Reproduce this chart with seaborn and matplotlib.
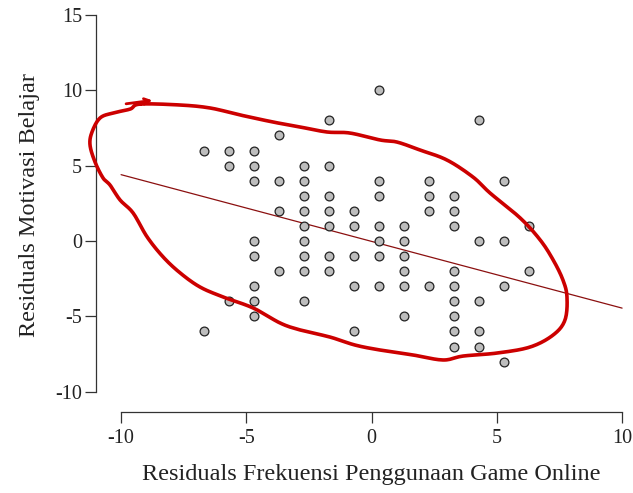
import numpy as np
import pandas as pd
import matplotlib
matplotlib.use("Agg")
import matplotlib.pyplot as plt
import seaborn as sns

# ---- data ----
x_game = [-6.7, -6.7,
          -5.7, -5.7, -5.7,
          -4.7, -4.7, -4.7, -4.7, -4.7, -4.7, -4.7, -4.7,
          -3.7, -3.7, -3.7, -3.7,
          -2.7, -2.7, -2.7, -2.7, -2.7, -2.7, -2.7, -2.7, -2.7,
          -1.7, -1.7, -1.7, -1.7, -1.7, -1.7, -1.7,
          -0.7, -0.7, -0.7, -0.7, -0.7,
          0.3, 0.3, 0.3, 0.3, 0.3, 0.3, 0.3,
          1.3, 1.3, 1.3, 1.3, 1.3, 1.3,
          2.3, 2.3, 2.3, 2.3,
          3.3, 3.3, 3.3, 3.3, 3.3, 3.3, 3.3, 3.3, 3.3,
          4.3, 4.3, 4.3, 4.3, 4.3,
          5.3, 5.3, 5.3, 5.3,
          6.3, 6.3]
y_motivasi = [6, -6,
              6, 5, -4,
              6, 5, 4, 0, -1, -3, -4, -5,
              7, 4, 2, -2,
              5, 4, 3, 2, 1, 0, -1, -2, -4,
              8, 5, 3, 2, 1, -1, -2,
              2, 1, -1, -3, -6,
              10, 4, 3, 1, 0, -1, -3,
              1, 0, -1, -2, -3, -5,
              4, 3, 2, -3,
              3, 2, 1, -2, -3, -4, -5, -6, -7,
              8, 0, -4, -6, -7,
              4, 0, -3, -8,
              1, -2]
fit_x = [-10, 10]
fit_y = [4.4, -4.45]
x_ticks = [-10, -5, 0, 5, 10]
y_ticks = [-10, -5, 0, 5, 10, 15]
x_label = "Residuals Frekuensi Penggunaan Game Online"
y_label = "Residuals Motivasi Belajar"

# hand-drawn annotation loop (data coordinates)
loop_x = [-9.24, -7.64, -6.44, -5.25, -3.93, -2.85, -1.78, -0.86, 0.34, 1.02, 1.94, 3.01,
          4.05, 4.73, 5.93, 6.73, 7.25, 7.64, 7.80, 7.72, 7.25, 6.33, 5.01, 3.65, 2.85,
          1.66, 0.34, -0.66, -1.66, -2.85, -3.65, -4.73, -5.93, -6.85, -7.64, -8.32,
          -8.96, -9.52, -10.04, -10.44, -10.72, -11.04, -11.24, -11.16, -10.84, -10.32, -9.64]
loop_y = [9.08, 9.02, 8.82, 8.36, 7.89, 7.56, 7.23, 7.16, 6.70, 6.56, 6.03, 5.37,
          4.24, 3.18, 1.53, 0.07, -1.26, -2.59, -3.71, -5.24, -6.23, -7.03, -7.43, -7.63, -7.89,
          -7.56, -7.23, -6.90, -6.37, -5.90, -5.44, -4.44, -3.71, -3.05, -2.12, -1.06,
          0.27, 1.86, 2.72, 3.71, 4.18, 5.24, 6.37, 7.23, 8.16, 8.49, 8.75]

df = pd.DataFrame({"x": x_game, "y": y_motivasi})
fit = pd.DataFrame({"x": fit_x, "y": fit_y})

sns.set_theme(style="ticks")
plt.rcParams["font.family"] = ["Liberation Serif", "DejaVu Serif"]
plt.rcParams["axes.unicode_minus"] = False

fig = plt.figure(figsize=(6.33, 4.93), dpi=100)
ax = fig.add_axes([0.1517, 0.1643, 0.8469, 0.8209])

sns.lineplot(data=fit, x="x", y="y", ax=ax, color="#8b1010", lw=0.9, zorder=2)
sns.scatterplot(data=df, x="x", y="y", ax=ax, s=40, color="#bdbdbd",
                edgecolor="#222222", linewidth=0.9, zorder=3)

ax.set_xlim(-11, 10.4)
ax.set_ylim(-11.34, 15.5)
ax.set_xticks(x_ticks)
ax.set_yticks(y_ticks)
ax.spines["top"].set_visible(False)
ax.spines["right"].set_visible(False)
ax.spines["left"].set_bounds(-10, 15)
ax.spines["bottom"].set_bounds(-10, 10)
for s in ("left", "bottom"):
    ax.spines[s].set_color("#333333")
    ax.spines[s].set_linewidth(0.9)
ax.tick_params(axis="both", length=8, width=0.9, color="#333333", labelsize=14.5, labelcolor="#222222")
ax.tick_params(axis="y", pad=2)
ax.tick_params(axis="x", pad=4)

ax.set_xlabel(x_label, fontsize=17.5, color="#222222")
ax.set_ylabel(y_label, fontsize=17.5, color="#222222")
ax.xaxis.set_label_coords(0.514, -0.128)
ax.yaxis.set_label_coords(-0.105, 0.511)


# smooth closed annotation curve (Catmull-Rom)
def catmull_closed(px, py, n=12):
    P = np.column_stack([px, py])
    m = len(P)
    out = []
    for i in range(m):
        p0, p1, p2, p3 = P[(i - 1) % m], P[i], P[(i + 1) % m], P[(i + 2) % m]
        for t in np.linspace(0, 1, n, endpoint=False):
            t2, t3 = t * t, t * t * t
            out.append(0.5 * ((2 * p1) + (-p0 + p2) * t + (2 * p0 - 5 * p1 + 4 * p2 - p3) * t2
                              + (-p0 + 3 * p1 - 3 * p2 + p3) * t3))
    out.append(out[0])
    return np.array(out)

curve = catmull_closed(loop_x, loop_y)
ax.plot(curve[:, 0], curve[:, 1], color="#cc0000", lw=2.6, solid_capstyle="round",
        solid_joinstyle="round", clip_on=False, zorder=4)
ax.annotate("", xy=(-8.75, 9.33), xytext=(-9.8, 9.1),
            arrowprops=dict(arrowstyle="->", color="#cc0000", lw=2.0,
                            mutation_scale=10, shrinkA=0, shrinkB=0),
            annotation_clip=False, zorder=4)

fig.savefig("out.png", dpi=100)
